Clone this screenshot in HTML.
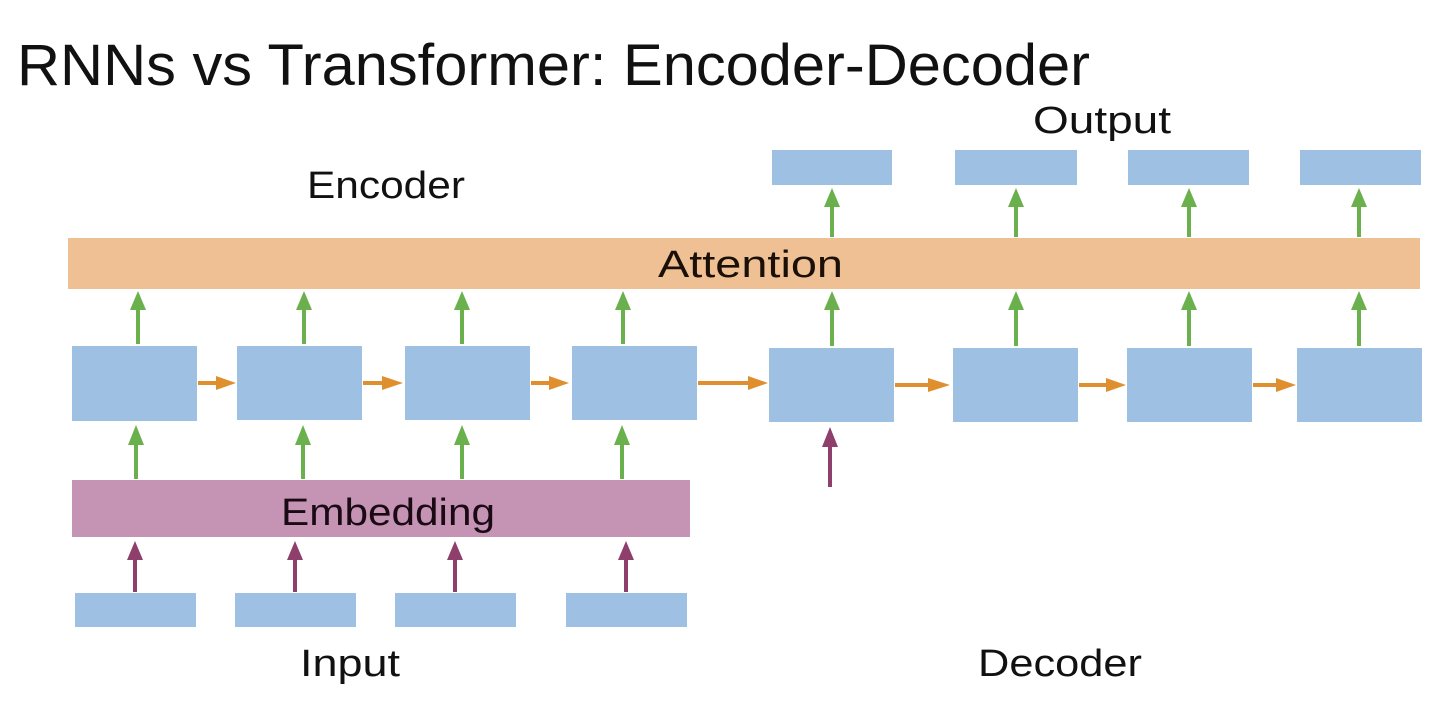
<!DOCTYPE html>
<html><head><meta charset="utf-8"><style>html,body{margin:0;padding:0;background:#fff}svg{display:block}</style></head>
<body>
<svg width="1450" height="718" viewBox="0 0 1450 718" xmlns="http://www.w3.org/2000/svg" font-family="'Liberation Sans', sans-serif">
<defs>
<marker id="g" viewBox="0 0 10 10" refX="5" refY="5" markerWidth="5" markerHeight="5" orient="auto"><path d="M0,0L10,5L0,10z" fill="#6ab04c"/></marker>
</defs>
<rect width="1450" height="718" fill="#fff"/>
<text x="17" y="85" font-size="58" fill="#111" textLength="1073" lengthAdjust="spacingAndGlyphs">RNNs vs Transformer: Encoder-Decoder</text>
<text x="307" y="198" font-size="38" fill="#111" textLength="158" lengthAdjust="spacingAndGlyphs">Encoder</text>
<text x="1033" y="133" font-size="38" fill="#111" textLength="138" lengthAdjust="spacingAndGlyphs">Output</text>
<text x="300" y="676" font-size="38" fill="#111" textLength="100" lengthAdjust="spacingAndGlyphs">Input</text>
<text x="978" y="676" font-size="38" fill="#111" textLength="164" lengthAdjust="spacingAndGlyphs">Decoder</text>
<rect x="68" y="238" width="1352" height="51" fill="#efc093"/>
<text x="658" y="277" font-size="38" fill="#1a1008" textLength="185" lengthAdjust="spacingAndGlyphs">Attention</text>
<rect x="72" y="480" width="618" height="57" fill="#c594b4"/>
<text x="281" y="525" font-size="38" fill="#1a0a14" textLength="214" lengthAdjust="spacingAndGlyphs">Embedding</text>
<g fill="#9dc0e3">
<rect x="72" y="346" width="125" height="75"/><rect x="237" y="346" width="125" height="74"/><rect x="405" y="346" width="125" height="74"/><rect x="572" y="346" width="125" height="74"/>
<rect x="769" y="348" width="125" height="74"/><rect x="953" y="348" width="125" height="74"/><rect x="1127" y="348" width="125" height="74"/><rect x="1297" y="348" width="125" height="74"/>
<rect x="75" y="593" width="121" height="34"/><rect x="235" y="593" width="121" height="34"/><rect x="395" y="593" width="121" height="34"/><rect x="566" y="593" width="121" height="34"/>
<rect x="772" y="150" width="120" height="35"/><rect x="955" y="150" width="122" height="35"/><rect x="1128" y="150" width="121" height="35"/><rect x="1300" y="150" width="121" height="35"/>
</g>
<g id="arrows">
<!-- green up arrows -->
<g stroke="#6ab04c" stroke-width="4" fill="#6ab04c">
<path d="M138 344V305"/><path d="M304 344V305"/><path d="M462 344V305"/><path d="M623 344V305"/>
<path d="M136 479V440"/><path d="M303 479V440"/><path d="M462 479V440"/><path d="M622 479V440"/>
<path d="M832 346V305"/><path d="M1016 346V305"/><path d="M1189 346V305"/><path d="M1359 346V305"/>
<path d="M832 237V202"/><path d="M1016 237V202"/><path d="M1189 237V202"/><path d="M1359 237V202"/>
</g>
<g fill="#6ab04c">
<path d="M130 310L138 291L146 310z"/><path d="M296 310L304 291L312 310z"/><path d="M454 310L462 291L470 310z"/><path d="M615 310L623 291L631 310z"/>
<path d="M128 445L136 425L144 445z"/><path d="M295 445L303 425L311 445z"/><path d="M454 445L462 425L470 445z"/><path d="M614 445L622 425L630 445z"/>
<path d="M824 310L832 291L840 310z"/><path d="M1008 310L1016 291L1024 310z"/><path d="M1181 310L1189 291L1197 310z"/><path d="M1351 310L1359 291L1367 310z"/>
<path d="M824 207L832 188L840 207z"/><path d="M1008 207L1016 188L1024 207z"/><path d="M1181 207L1189 188L1197 207z"/><path d="M1351 207L1359 188L1367 207z"/>
</g>
<!-- purple -->
<g stroke="#8e3f6c" stroke-width="4">
<path d="M135 592V555"/><path d="M295 592V555"/><path d="M455 592V555"/><path d="M626 592V555"/><path d="M830 487V445"/>
</g>
<g fill="#8e3f6c">
<path d="M127 560L135 541L143 560z"/><path d="M287 560L295 541L303 560z"/><path d="M447 560L455 541L463 560z"/><path d="M618 560L626 541L634 560z"/><path d="M822 447L830 427L838 447z"/>
</g>
<!-- orange -->
<g stroke="#e08f2e" stroke-width="4">
<path d="M198 383H220"/><path d="M363 383H386"/><path d="M531 383H553"/><path d="M698 383H750"/>
<path d="M895 385H930"/><path d="M1079 385H1108"/><path d="M1253 385H1278"/>
</g>
<g fill="#e08f2e">
<path d="M216 376L236 383L216 390z"/><path d="M382 376L403 383L382 390z"/><path d="M549 376L569 383L549 390z"/><path d="M748 376L768 383L748 390z"/>
<path d="M928 378L950 385L928 392z"/><path d="M1106 378L1126 385L1106 392z"/><path d="M1276 378L1296 385L1276 392z"/>
</g>
</g>
</svg>
</body></html>
